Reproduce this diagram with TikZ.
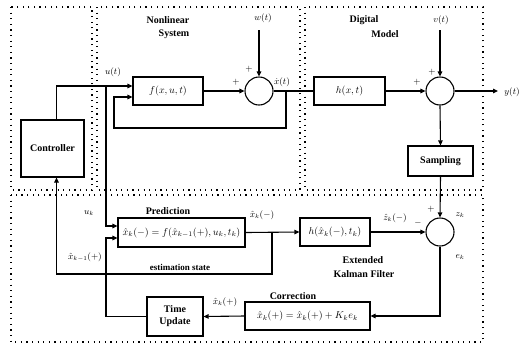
\documentclass[tikz,border=0pt]{standalone}
\usepackage{fontspec}
\setmainfont{Liberation Serif}
\usetikzlibrary{arrows.meta,calc}
\begin{document}
\begin{tikzpicture}[x=1pt,y=-1pt,
  font=\fontsize{10}{12}\selectfont,
  region/.style={line width=1.2pt,dash pattern=on 1.2pt off 4.4pt},
  blk/.style={draw,line width=1.1pt,minimum width=#1,inner sep=1pt},
  sumnode/.style={draw,circle,line width=1.1pt,minimum size=28pt,inner sep=0pt},
  conn/.style={line width=1.1pt},
  arr/.style={conn,-{Triangle[length=5pt,width=4.5pt]}},
  ttl/.style={font=\fontsize{10}{12}\selectfont\bfseries},
  lbl/.style={font=\fontsize{9}{10}\selectfont,inner sep=0pt}]
\useasboundingbox (0,0) rectangle (529,346);

% dotted regions
\draw[region] (11,7) rectangle (92,190);
\draw[region] (97,7) rectangle (300,190);
\draw[region] (305,7) rectangle (483,190);
\draw[region] (11,195) rectangle (483,342);

% region titles
\node[ttl] (tnl) at (168,20) {Nonlinear};
\node[ttl] (tsys) at (174,34) {System};
\node[ttl] (tdig) at (364,20) {Digital};
\node[ttl] (tmod) at (385,34) {Model};
\node[ttl] (tekf) at (363,260) {Extended};
\node[ttl] (tkal) at (364,274) {Kalman Filter};

% blocks
\node[blk=63pt,minimum height=57pt,ttl] (ctrl) at (52.5,148.5) {Controller};
\node[blk=70pt,minimum height=28pt] (f) at (168,91) {$f(x,u,t)$};
\node[sumnode] (s1) at (259,91) {};
\node[blk=71pt,minimum height=28pt] (h) at (349.5,91) {$h(x,t)$};
\node[sumnode] (s2) at (440,91) {};
\node[blk=65pt,minimum height=30pt,ttl] (samp) at (440.5,161) {Sampling};
\node[sumnode] (s3) at (440,232) {};
\node[blk=70pt,minimum height=28pt] (hk) at (335,232) {$h(\hat{x}_k(-),t_k)$};
\node[blk=127pt,minimum height=29pt] (pred) at (181.5,232.5) {$\hat{x}_k(-)=f(\hat{x}_{k-1}(+),u_k,t_k)$};
\node[blk=125pt,minimum height=28pt] (corr) at (307.5,316) {$\hat{x}_k(+)=\hat{x}_k(+)+K_k e_k$};
\node[blk=56pt,minimum height=39pt,ttl,align=center] (tu) at (175,316.5) {Time\\Update};
\node[ttl] (tpred) at (168,211) {Prediction};
\node[ttl] (tcorr) at (293,296) {Correction};

% signal labels
\node[lbl] (lu) at (113,72) {$u(t)$};
\node[lbl] (lw) at (263,18) {$w(t)$};
\node[lbl] (lxd) at (282,82) {$\dot{x}(t)$};
\node[lbl] (lv) at (441,20) {$v(t)$};
\node[lbl] (ly) at (512,92) {$y(t)$};
\node[lbl] (luk) at (89,213) {$u_k$};
\node[lbl] (lxkm) at (85,257) {$\hat{x}_{k-1}(+)$};
\node[lbl] (lest) at (180,267) {\bfseries estimation state};
\node[lbl] (lxk) at (262,215) {$\hat{x}_k(-)$};
\node[lbl] (lzh) at (395,218) {$\hat{z}_k(-)$};
\node[lbl] (lzk) at (460,215) {$z_k$};
\node[lbl] (lek) at (460,257) {$e_k$};
\node[lbl] (lxp) at (225,302) {$\hat{x}_k(+)$};
\node[lbl] (p1) at (236,82) {$+$};
\node[lbl] (p2) at (249,69) {$+$};
\node[lbl] (p3) at (417,82) {$+$};
\node[lbl] (p4) at (432,72) {$+$};
\node[lbl] (p5) at (431,209) {$+$};
\node[lbl] (m1) at (418,223) {$-$};

% helper points
\coordinate (wtop) at (259,30);
\coordinate (vtop) at (440,30);
\coordinate (yout) at (498,91);
\coordinate (ub) at (106,86);
\coordinate (fb) at (286,91);
\coordinate (eb) at (272,232);

% upper loop
\draw[arr] ([xshift=4pt]ctrl.north) |- ([yshift=5pt]f.west);
\draw[arr] (ub) |- ([yshift=6.5pt]pred.west);
\draw[arr] (f.east) -- (s1.west);
\draw[arr] (wtop) -- (s1.north);
\draw[conn] (s1.east) -- (h.west);
\draw[arr] (fb) -- (286,128) -| (114,97) -- ([yshift=-6pt]f.west);
\draw[arr] (h.east) -- (s2.west);
\draw[arr] (vtop) -- (s2.north);
\draw[arr] (s2.east) -- (yout);
\draw[arr] (s2.south) -- (samp.north);
\draw[arr] (samp.south) -- (s3.north);

% filter loop
\draw[arr] (pred.east) -- (hk.west);
\draw[arr] (hk.east) -- (s3.west);
\draw[arr] (eb) -- (272,274) -| ([xshift=4pt]ctrl.south);
\draw[arr] (s3.south) |- (corr.east);
\draw[arr] (corr.west) -- (tu.east);
\draw[arr] (tu.west) -| (106,238) -- ([yshift=-5.5pt]pred.west);
\end{tikzpicture}
\end{document}
